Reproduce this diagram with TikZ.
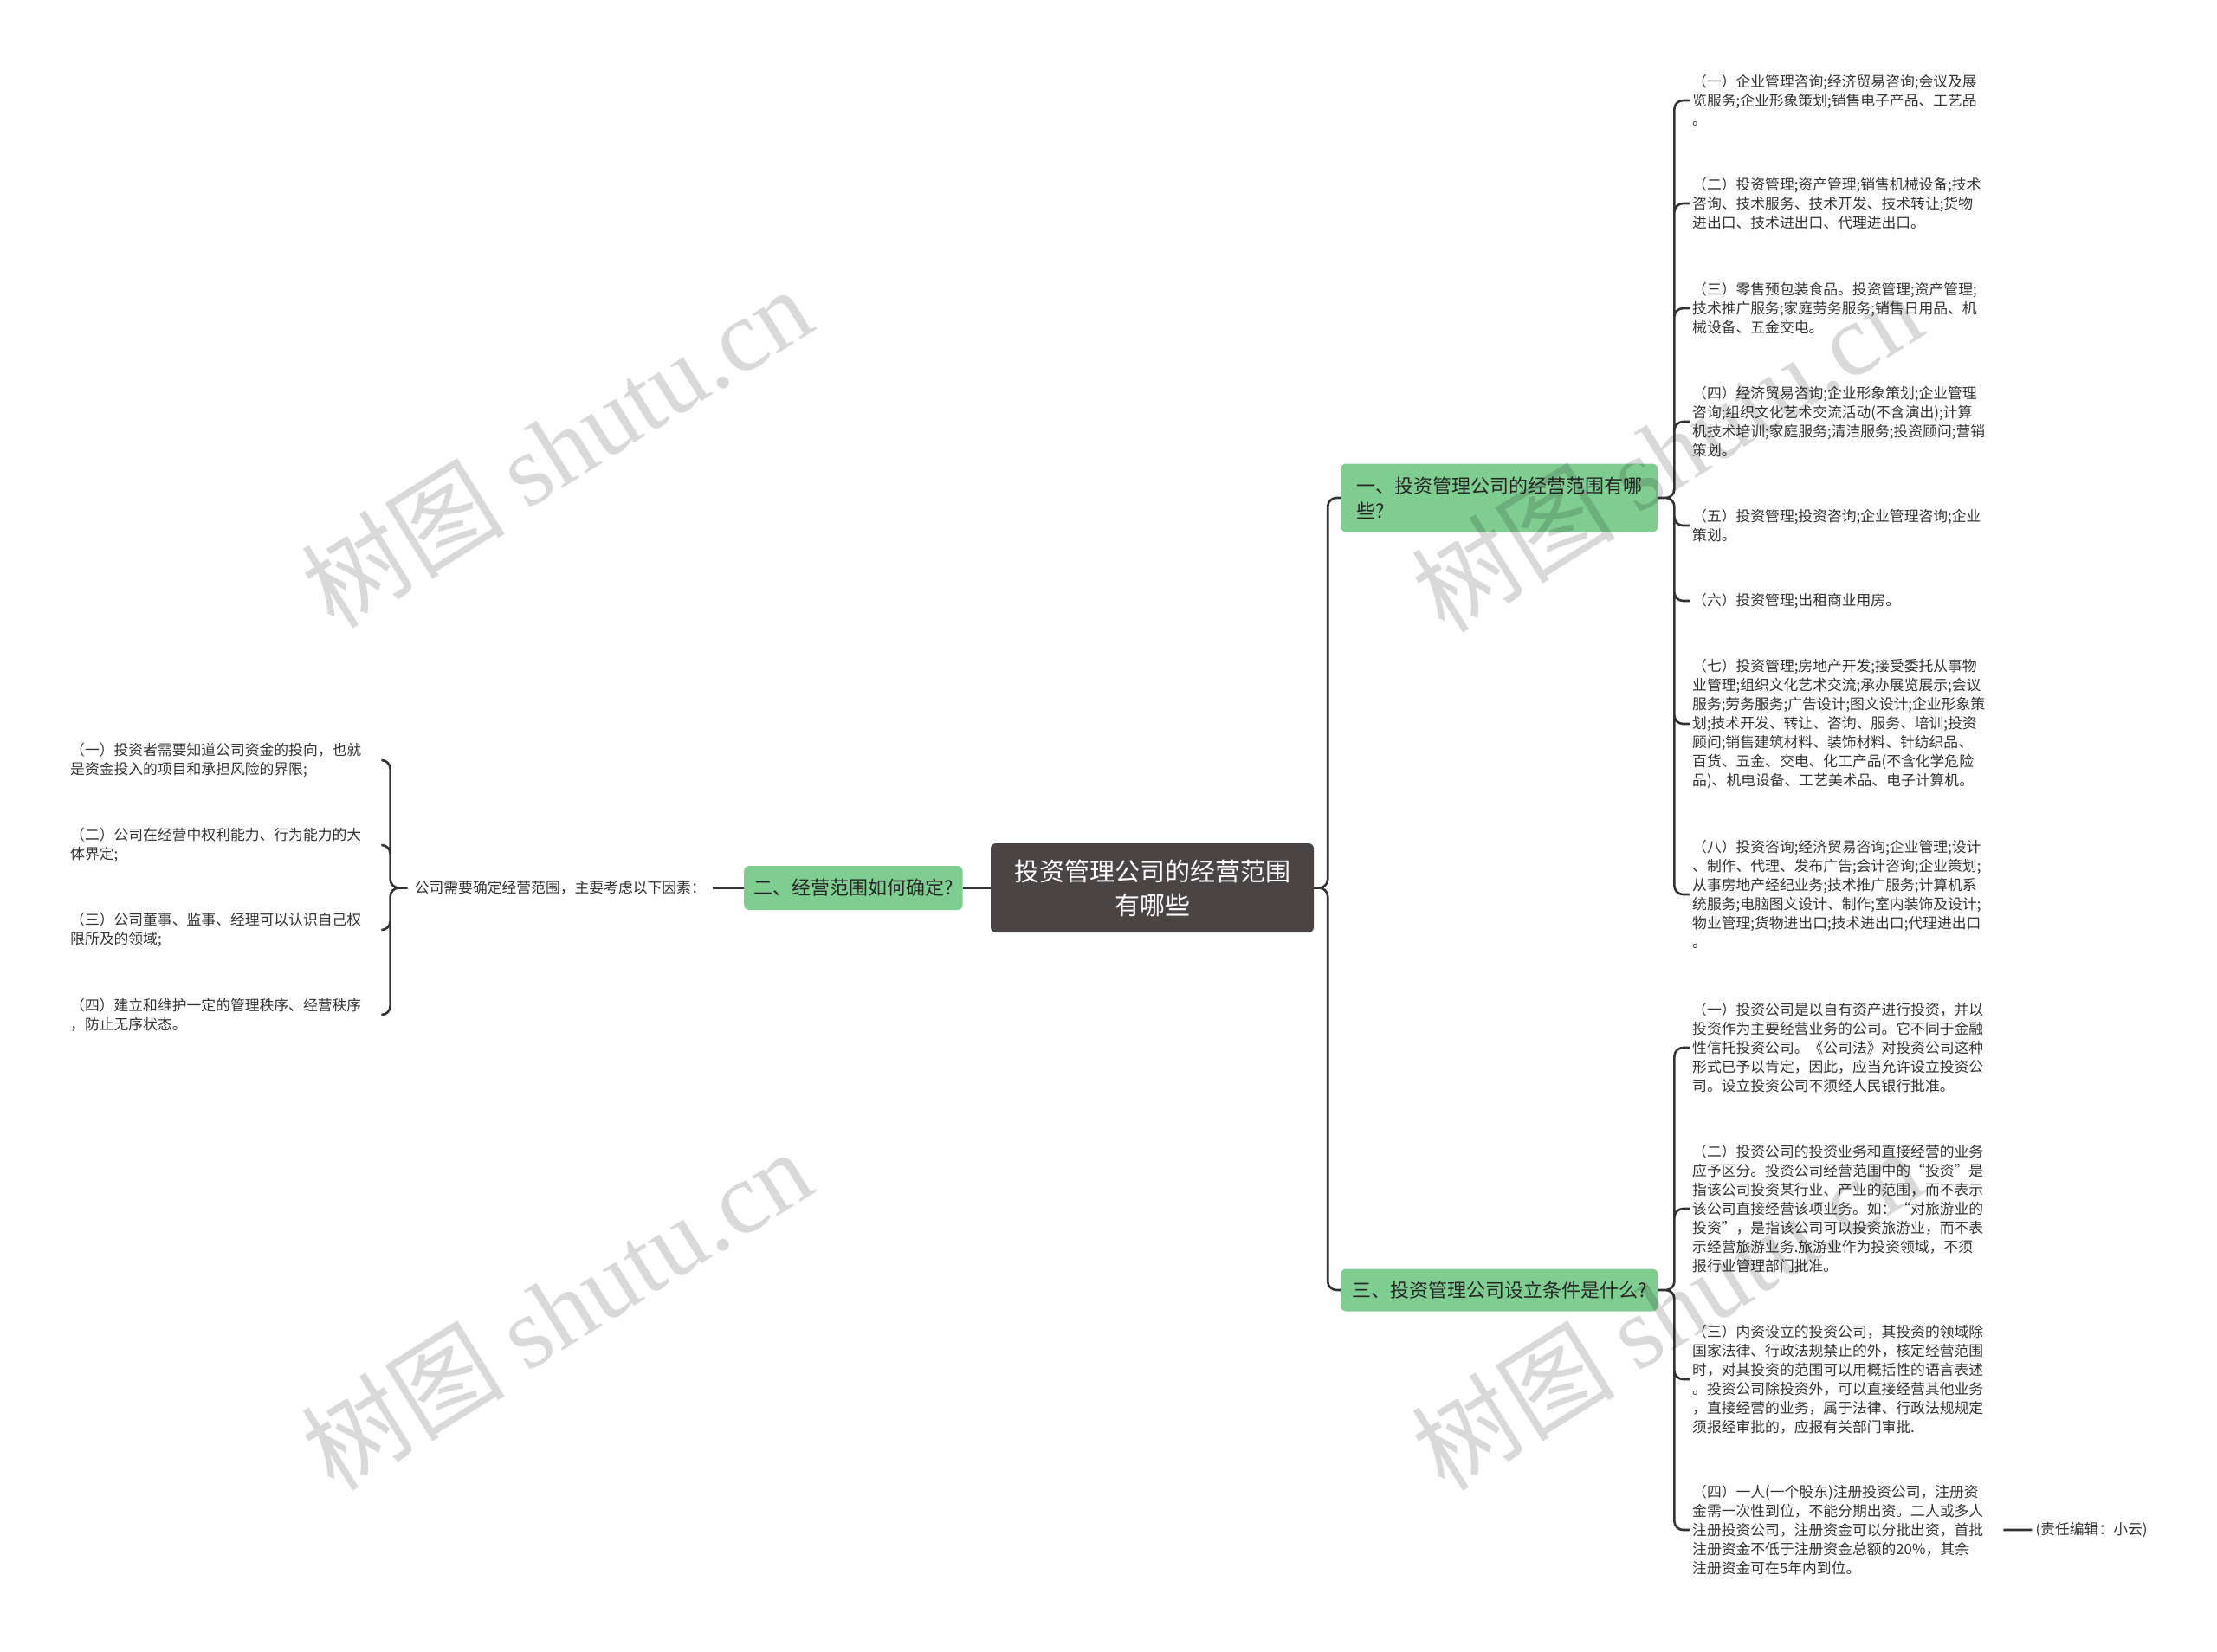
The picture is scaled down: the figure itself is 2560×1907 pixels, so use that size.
\documentclass[tikz,border=0pt]{standalone}
\usepackage{fontspec}
\setmainfont{Noto Sans CJK SC}
\newfontfamily\markfont{Liberation Serif}
\usepackage{tikz}
\usetikzlibrary{positioning}
\definecolor{topicgray}{RGB}{74,69,68}
\definecolor{branchgreen}{RGB}{128,205,146}
\definecolor{linkgray}{RGB}{51,51,51}
\definecolor{leafgray}{RGB}{51,51,51}

\begin{document}
\begin{tikzpicture}[x=1pt, y=-1pt,
	topic/.style={fill=topicgray, text=white, rounded corners=6pt, align=center, minimum width=373pt, minimum height=103pt, font=\fontsize{29}{39}\selectfont},
	branch/.style={fill=branchgreen, text=black!85, rounded corners=6pt, align=left, anchor=west, inner xsep=12pt, font=\fontsize{22}{29}\selectfont},
	leaf/.style={text=leafgray, align=left, text width=356pt, inner xsep=3pt, font=\fontsize{16.8}{22}\selectfont},
	small/.style={text=leafgray, font=\fontsize{16.8}{22}\selectfont},
	link/.style={draw=linkgray, line width=2.6pt, rounded corners=10pt},
	wmark/.style={rotate=32, text=black, text opacity=0.15, font=\fontsize{118}{118}\selectfont}]
		\useasboundingbox (0,0) rectangle (2560,1907);

		\node[topic] (root) at (1330.5,1025.5) {投资管理公司的经营范围\\有哪些};
		\node[branch, minimum width=366pt, minimum height=79pt] (b1) at (1548,575) {一、投资管理公司的经营范围有哪\\些?};
		\node[branch, inner xsep=11pt, minimum height=51pt] (b2) at (859,1025.5) {二、经营范围如何确定?};
		\node[branch, minimum width=366pt, minimum height=49pt] (b3) at (1548,1490) {三、投资管理公司设立条件是什么?};

		\node[leaf, anchor=west] (a1) at (1951,116) {（一）企业管理咨询;经济贸易咨询;会议及展\\览服务;企业形象策划;销售电子产品、工艺品\\。};
		\node[leaf, anchor=west] (a2) at (1951,235) {（二）投资管理;资产管理;销售机械设备;技术\\咨询、技术服务、技术开发、技术转让;货物\\进出口、技术进出口、代理进出口。};
		\node[leaf, anchor=west] (a3) at (1951,356) {（三）零售预包装食品。投资管理;资产管理;\\技术推广服务;家庭劳务服务;销售日用品、机\\械设备、五金交电。};
		\node[leaf, anchor=west] (a4) at (1951,487) {（四）经济贸易咨询;企业形象策划;企业管理\\咨询;组织文化艺术交流活动(不含演出);计算\\机技术培训;家庭服务;清洁服务;投资顾问;营销\\策划。};
		\node[leaf, anchor=west] (a5) at (1951,607) {（五）投资管理;投资咨询;企业管理咨询;企业\\策划。};
		\node[leaf, anchor=west] (a6) at (1951,694) {（六）投资管理;出租商业用房。};
		\node[leaf, anchor=west] (a7) at (1951,836) {（七）投资管理;房地产开发;接受委托从事物\\业管理;组织文化艺术交流;承办展览展示;会议\\服务;劳务服务;广告设计;图文设计;企业形象策\\划;技术开发、转让、咨询、服务、培训;投资\\顾问;销售建筑材料、装饰材料、针纺织品、\\百货、五金、交电、化工产品(不含化学危险\\品)、机电设备、工艺美术品、电子计算机。};
		\node[leaf, anchor=west] (a8) at (1951,1033) {（八）投资咨询;经济贸易咨询;企业管理;设计\\、制作、代理、发布广告;会计咨询;企业策划;\\从事房地产经纪业务;技术推广服务;计算机系\\统服务;电脑图文设计、制作;室内装饰及设计;\\物业管理;货物进出口;技术进出口;代理进出口\\。};

		\node[leaf, anchor=west] (c1) at (1951,1210) {（一）投资公司是以自有资产进行投资，并以\\投资作为主要经营业务的公司。它不同于金融\\性信托投资公司。《公司法》对投资公司这种\\形式已予以肯定，因此，应当允许设立投资公\\司。设立投资公司不须经人民银行批准。};
		\node[leaf, anchor=west] (c2) at (1951,1396) {（二）投资公司的投资业务和直接经营的业务\\应予区分。投资公司经营范围中的“投资”是\\指该公司投资某行业、产业的范围，而不表示\\该公司直接经营该项业务。如：“对旅游业的\\投资”，是指该公司可以投资旅游业，而不表\\示经营旅游业务.旅游业作为投资领域，不须\\报行业管理部门批准。};
		\node[leaf, anchor=west] (c3) at (1951,1593) {（三）内资设立的投资公司，其投资的领域除\\国家法律、行政法规禁止的外，核定经营范围\\时，对其投资的范围可以用概括性的语言表述\\。投资公司除投资外，可以直接经营其他业务\\，直接经营的业务，属于法律、行政法规规定\\须报经审批的，应报有关部门审批.};
		\node[leaf, anchor=west] (c4) at (1951,1767) {（四）一人(一个股东)注册投资公司，注册资\\金需一次性到位，不能分期出资。二人或多人\\注册投资公司，注册资金可以分批出资，首批\\注册资金不低于注册资金总额的20\%，其余\\注册资金可在5年内到位。};
		\node[small, right=33pt of c4, inner xsep=4pt] (note) {(责任编辑：小云)};

		\node[small, left=36pt of b2, inner xsep=8pt] (q) {公司需要确定经营范围，主要考虑以下因素：};
		\node[leaf, anchor=west] (l1) at (78,878) {（一）投资者需要知道公司资金的投向，也就\\是资金投入的项目和承担风险的界限;};
		\node[leaf, anchor=west] (l2) at (78,976) {（二）公司在经营中权利能力、行为能力的大\\体界定;};
		\node[leaf, anchor=west] (l3) at (78,1074) {（三）公司董事、监事、经理可以认识自己权\\限所及的领域;};
		\node[leaf, anchor=west] (l4) at (78,1172) {（四）建立和维护一定的管理秩序、经营秩序\\，防止无序状态。};

		\path[link] (root.east) -- ++(16,0) |- (b1.west)
		            (root.east) -- ++(16,0) |- (b3.west)
		            (root.west) -- (b2.east)
		            (b2.west) -- (q.east)
		            (c4.east) -- (note.west);
		\path[link] (b1.east) -- ++(19,0) |- (a1.west)
		            (b1.east) -- ++(19,0) |- (a2.west)
		            (b1.east) -- ++(19,0) |- (a3.west)
		            (b1.east) -- ++(19,0) |- (a4.west)
		            (b1.east) -- ++(19,0) |- (a5.west)
		            (b1.east) -- ++(19,0) |- (a6.west)
		            (b1.east) -- ++(19,0) |- (a7.west)
		            (b1.east) -- ++(19,0) |- (a8.west);
		\path[link] (b3.east) -- ++(19,0) |- (c1.west)
		            (b3.east) -- ++(19,0) |- (c2.west)
		            (b3.east) -- ++(19,0) |- (c3.west)
		            (b3.east) -- ++(19,0) |- (c4.west);
		\path[link] (q.west) -- ++(-20,0) |- (l1.east)
		            (q.west) -- ++(-20,0) |- (l2.east)
		            (q.west) -- ++(-20,0) |- (l3.east)
		            (q.west) -- ++(-20,0) |- (l4.east);

		\node[wmark] (w1) at (642,516) {树图 {\markfont shutu.cn}};
		\node[wmark] (w2) at (1924,521) {树图 {\markfont shutu.cn}};
		\node[wmark] (w3) at (642,1512) {树图 {\markfont shutu.cn}};
		\node[wmark] (w4) at (1924,1512) {树图 {\markfont shutu.cn}};
	\end{tikzpicture}
\end{document}
